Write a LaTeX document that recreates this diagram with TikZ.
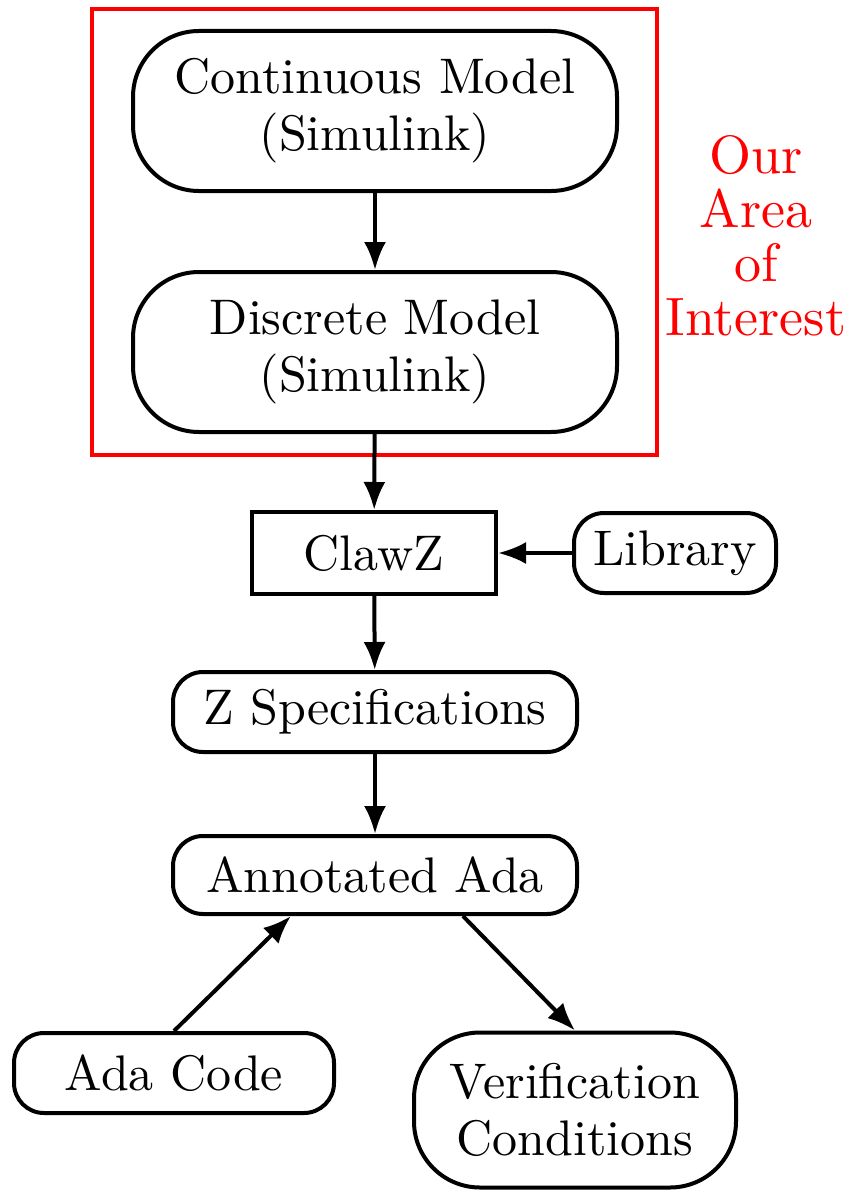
\documentclass[tikz,border=0pt]{standalone}
\usepackage{fontspec}
\setmainfont{lmroman10-regular.otf}
\usetikzlibrary{arrows.meta}
\begin{document}
\begin{tikzpicture}[x=0.5pt,y=-0.5pt,
    font=\fontsize{25}{28.5}\selectfont,
    bigbox/.style={draw,line width=2pt,rounded corners=33pt,align=center,minimum width=242pt,minimum height=80pt},
    smallbox/.style={draw,line width=2pt,rounded corners=15pt,align=center,minimum height=40pt},
    plainbox/.style={draw,line width=2pt,align=center,minimum height=41pt},
    arr/.style={line width=2pt,-{Latex[length=14pt,width=11pt]}}]
\useasboundingbox (0,0) rectangle (851,1193);
\node[draw=red,line width=1.8pt,minimum width=282.5pt,minimum height=223pt](area) at (374.5,232){};
\node[text=red,align=center,font=\fontsize{27}{27}\selectfont](ours) at (756,236){Our\\Area\\of\\Interest};
\node[bigbox](cont) at (375,111){Continuous Model\\(Simulink)};
\node[bigbox](disc) at (375,352){Discrete Model\\(Simulink)};
\node[plainbox,minimum width=122pt](clawz) at (374,553){ClawZ};
\node[smallbox,minimum width=101pt](library) at (675,553){Library};
\node[smallbox,minimum width=202pt](zspec) at (375,712){Z Specifications};
\node[smallbox,minimum width=202pt,minimum height=39pt](annot) at (375,875){Annotated Ada};
\node[smallbox,minimum width=160pt](adacode) at (174,1073){Ada Code};
\node[bigbox,minimum width=161pt,minimum height=77.5pt](verif) at (575,1110){Verification\\Conditions};
\draw[arr] (cont)--(disc);
\draw[arr] (disc)--(clawz);
\draw[arr] (library)--(clawz);
\draw[arr] (clawz)--(zspec);
\draw[arr] (zspec)--(annot);
\draw[arr] (adacode.north)--(annot.206);
\draw[arr] (annot.335)--(verif.north);
\end{tikzpicture}
\end{document}
